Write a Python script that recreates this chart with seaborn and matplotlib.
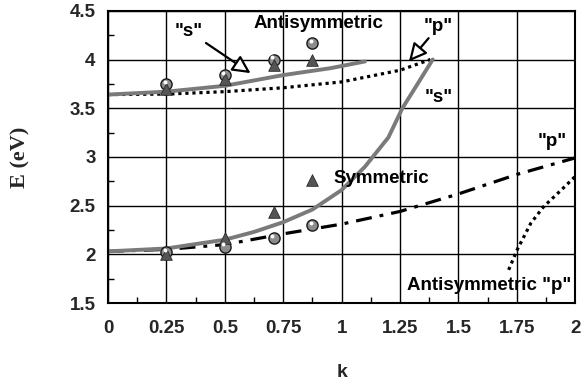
import matplotlib
matplotlib.use("Agg")
import matplotlib.pyplot as plt
import matplotlib.transforms as mtransforms
from matplotlib.ticker import MultipleLocator
import seaborn as sns
import pandas as pd

# Antisymmetric "s" branch (solid gray)
anti_s_k = [0.0, 0.25, 0.5, 0.75, 0.95, 1.1]
anti_s_E = [3.64, 3.67, 3.73, 3.84, 3.91, 3.98]

# Antisymmetric "p" branch, upper (dotted)
anti_p_k = [0.0, 0.25, 0.5, 0.75, 1.0, 1.25, 1.38]
anti_p_E = [3.64, 3.645, 3.67, 3.71, 3.77, 3.89, 4.0]

# Symmetric "s" branch (solid gray)
sym_s_k = [0.0, 0.25, 0.5, 0.625, 0.75, 0.875, 1.0, 1.1, 1.2, 1.26, 1.32, 1.39]
sym_s_E = [2.03, 2.06, 2.15, 2.23, 2.33, 2.46, 2.66, 2.9, 3.2, 3.5, 3.73, 4.0]

# Symmetric "p" branch (dash-dot)
sym_p_k = [0.0, 0.25, 0.5, 0.75, 1.0, 1.25, 1.5, 1.75, 2.0]
sym_p_E = [2.03, 2.05, 2.10, 2.21, 2.31, 2.44, 2.62, 2.82, 2.99]

# Antisymmetric "p" branch, lower (dotted)
anti_p2_k = [1.715, 1.75, 1.81, 1.865, 1.94, 2.0]
anti_p2_E = [1.84, 2.04, 2.32, 2.49, 2.66, 2.80]

# Measured points
tri_k = [0.25, 0.5, 0.71, 0.875, 0.25, 0.5, 0.71, 0.875]
tri_E = [3.70, 3.80, 3.94, 3.99, 2.00, 2.17, 2.43, 2.76]
sph_k = [0.25, 0.5, 0.71, 0.875, 0.25, 0.5, 0.71, 0.875]
sph_E = [3.75, 3.84, 4.00, 4.17, 2.02, 2.08, 2.17, 2.30]

x_ticks = [0, 0.25, 0.5, 0.75, 1, 1.25, 1.5, 1.75, 2]
x_tick_labels = ["0", "0.25", "0.5", "0.75", "1", "1.25", "1.5", "1.75", "2"]
y_ticks = [1.5, 2, 2.5, 3, 3.5, 4, 4.5]
y_tick_labels = ["1.5", "2", "2.5", "3", "3.5", "4", "4.5"]

sns.set_style("white")
plt.rcParams["font.family"] = ["Liberation Sans", "DejaVu Sans"]

fig = plt.figure(figsize=(5.84, 3.86), dpi=100)
ax = fig.add_axes([0.185, 0.215, 0.8, 0.757])

gray = "#7a7a7a"
sns.lineplot(x=anti_p_k, y=anti_p_E, ax=ax, color="black", lw=2.3,
             linestyle=(0, (1, 1.2)), sort=False)
sns.lineplot(x=anti_p2_k, y=anti_p2_E, ax=ax, color="black", lw=2.3,
             linestyle=(0, (1, 1.2)), sort=False)
sns.lineplot(x=sym_p_k, y=sym_p_E, ax=ax, color="black", lw=2.3,
             linestyle=(0, (5, 2.5, 1.2, 2.5)), sort=False)
sns.lineplot(x=anti_s_k, y=anti_s_E, ax=ax, color=gray, lw=2.8, sort=False)
sns.lineplot(x=sym_s_k, y=sym_s_E, ax=ax, color=gray, lw=2.8, sort=False)

tri = pd.DataFrame({"k": tri_k, "E": tri_E})
sph = pd.DataFrame({"k": sph_k, "E": sph_E})
sns.scatterplot(data=sph, x="k", y="E", ax=ax, marker="o", s=65,
                color="#8c8c8c", edgecolor="#1a1a1a", linewidth=1.0, zorder=5)
sns.scatterplot(data=tri, x="k", y="E", ax=ax, marker="^", s=70,
                color="#555555", edgecolor="#2a2a2a", linewidth=0.6, zorder=6)
# small highlight on the spheres
hl = mtransforms.offset_copy(ax.transData, fig=fig, x=-1.3, y=1.6, units="points")
ax.scatter(sph_k, sph_E, s=8, color="white", transform=hl, zorder=7, linewidths=0)

ax.set_xlim(0, 2)
ax.set_ylim(1.5, 4.5)
ax.set_xticks(x_ticks)
ax.set_xticklabels(x_tick_labels)
ax.set_yticks(y_ticks)
ax.set_yticklabels(y_tick_labels)
ax.xaxis.set_minor_locator(MultipleLocator(0.125))
ax.yaxis.set_minor_locator(MultipleLocator(0.25))
ax.tick_params(axis="both", which="major", length=0, labelsize=13.5)
ax.tick_params(axis="x", which="major", pad=12)
ax.tick_params(axis="y", which="major", pad=9)
ax.tick_params(axis="both", which="minor", direction="in", length=4,
               width=1, color="black", bottom=True, left=True)
for lab in ax.get_xticklabels() + ax.get_yticklabels():
    lab.set_fontweight("bold")
ax.grid(True, which="major", color="black", lw=1.0)
for sp in ax.spines.values():
    sp.set_visible(True)
    sp.set_color("black")
    sp.set_linewidth(1.5)

ax.set_xlabel("k", fontsize=14, fontweight="bold", labelpad=20)
ax.set_ylabel("E (eV)", fontsize=16, fontweight="bold",
              family=["Liberation Serif", "DejaVu Serif"], labelpad=28)

txt = dict(fontsize=13.5, fontweight="bold", ha="center", va="center", color="black")
ax.text(0.90, 4.37, "Antisymmetric", **txt)
ax.text(1.17, 2.78, "Symmetric", **txt)
ax.text(1.415, 3.61, '"s"', **txt)
ax.text(1.90, 3.16, '"p"', **txt)
ax.text(1.63, 1.68, 'Antisymmetric "p"', **txt)

arrow = dict(arrowstyle="-|>,head_length=0.8,head_width=0.4", fc="white",
             ec="black", lw=1.6, shrinkA=0, shrinkB=0)
ax.annotate('"s"', xy=(0.61, 3.86), xytext=(0.345, 4.29), arrowprops=arrow, **txt)
ax.annotate('"p"', xy=(1.288, 3.98), xytext=(1.415, 4.34), arrowprops=arrow, **txt)

fig.savefig("out.png", dpi=100)
